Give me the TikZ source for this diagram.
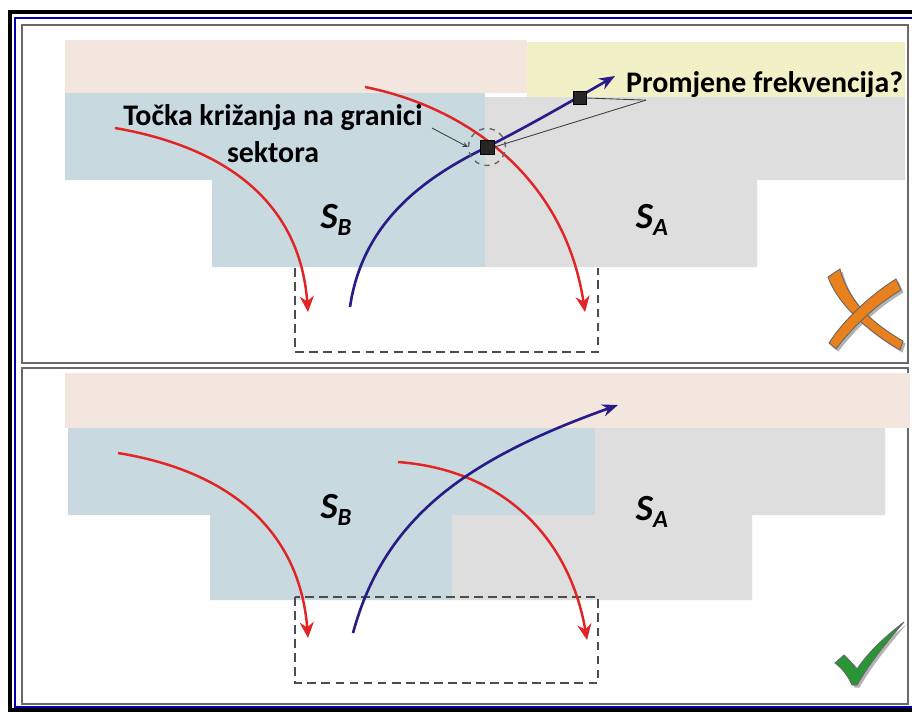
\documentclass[tikz,border=0pt]{standalone}
\usepackage{fontspec}
\setmainfont{Carlito}
\usetikzlibrary{arrows.meta, positioning, calc}

\definecolor{bandpink}{RGB}{243,230,222}
\definecolor{bandyellow}{RGB}{242,240,198}
\definecolor{sectorB}{RGB}{200,218,223}
\definecolor{sectorA}{RGB}{222,222,222}
\definecolor{flowred}{RGB}{226,36,36}
\definecolor{flownavy}{RGB}{40,28,135}
\definecolor{framegray}{RGB}{105,105,105}
\definecolor{crossorange}{RGB}{232,128,30}
\definecolor{tickgreen}{RGB}{40,150,50}

\begin{document}
\begin{tikzpicture}[x=0.02cm, y=-0.02cm,
    redflow/.style={draw=flowred, line width=1.4pt, -{Stealth[length=9pt, width=8pt]}},
    blueflow/.style={draw=flownavy, line width=1.5pt},
    sectorlbl/.style={font=\fontsize{21}{21}\selectfont\bfseries\itshape, inner sep=0pt},
    note/.style={font=\fontsize{17}{21}\selectfont\bfseries, align=center, inner sep=1pt},
    marker/.style={fill=black!85, draw=black, minimum size=0.28cm, inner sep=0pt},
    exitbox/.style={draw=black!70, line width=1pt, dash pattern=on 5pt off 3pt},
    pointer/.style={draw=black!75, line width=0.5pt}]

    \useasboundingbox (0,0) rectangle (912,711);

    % frame
    \draw[line width=2.4pt] (912,12) -- (10,12) -- (10,710) -- (912,710);
    \draw[blue!70!black, line width=1.2pt] (912,18) -- (15,18) -- (15,707) -- (912,707);
    \draw[framegray, line width=1pt] (22,25) rectangle (908,363);
    \draw[framegray, line width=1pt] (22,368) rectangle (908,704);

    % top panel: sectors
    \fill[bandpink] (65,40) rectangle (527,93);
    \fill[bandyellow] (527,42) rectangle (905,97);
    \fill[sectorB] (65,93) -- (485,93) -- (485,267) -- (212,267) -- (212,180) -- (65,180) -- cycle;
    \fill[sectorA] (485,97) -- (905,97) -- (905,180) -- (757,180) -- (757,267) -- (485,267) -- cycle;
    \draw[exitbox] (295,268) -- (295,352) -- (598,352) -- (598,268);
    \node[sectorlbl] (sbtop) at (336,220) {S\raisebox{-0.35ex}{\fontsize{14}{14}\selectfont B}};
    \node[sectorlbl] (satop) at (652,220) {S\raisebox{-0.35ex}{\fontsize{14}{14}\selectfont A}};

    % top panel: flights
    \coordinate (ra1) at (115,128);
    \coordinate (ra2) at (308,312);
    \coordinate (rb1) at (365,87);
    \coordinate (rb2) at (585,312);
    \coordinate (bl1) at (350,307);
    \coordinate (bl2) at (615,76);
    \draw[redflow] (ra1) .. controls (230,148) and (300,205) .. (ra2);
    \draw[redflow] (rb1) .. controls (470,108) and (565,180) .. (rb2);
    \draw[blueflow, -{Stealth[length=9pt, width=7pt]}] (bl1) .. controls (363,218) and (430,175) .. (487,147)
        .. controls (530,125) and (570,102) .. (bl2);

    % crossing point
    \node[circle, draw=black!60, dashed, line width=0.8pt, minimum size=0.74cm] (ring) at (487,147) {};
    \node[marker] (cross) at (487,147) {};
    \node[marker, minimum size=0.25cm] (freqsq) at (580,98) {};

    % labels
    \node[note] (lblcross) at (273,134) {Točka križanja na granici\\sektora};
    \node[note, anchor=west] (lblfreq) at (624,85) {Promjene frekvencija?};
    \draw[pointer, -{Stealth[length=3pt, width=3pt]}] (432,128) -- (ring.west);
    \draw[pointer] ($(lblfreq.south west)+(22,0)$) -- (freqsq.east);
    \draw[pointer] ($(lblfreq.south west)+(22,0)$) -- (cross.east);

    % wrong mark
    \begin{scope}[shift={(2.5,2.5)}]
        \fill[gray!60] (828,277) .. controls (836,300) and (862,328) .. (900,350) -- (903,341)
            .. controls (870,322) and (848,300) .. (840,269) -- cycle;
        \fill[gray!60] (896,279) .. controls (870,295) and (842,322) .. (829,343) -- (836,349)
            .. controls (850,330) and (875,305) .. (901,290) -- cycle;
    \end{scope}
    \filldraw[fill=crossorange, draw=black!60, line width=0.5pt]
        (828,277) .. controls (836,300) and (862,328) .. (900,350) -- (903,341)
        .. controls (870,322) and (848,300) .. (840,269) -- cycle;
    \filldraw[fill=crossorange, draw=black!60, line width=0.5pt]
        (896,279) .. controls (870,295) and (842,322) .. (829,343) -- (836,349)
        .. controls (850,330) and (875,305) .. (901,290) -- cycle;

    % bottom panel: sectors
    \fill[bandpink] (65,373) rectangle (910,428);
    \fill[sectorB] (68,428) -- (595,428) -- (595,515) -- (452,515) -- (452,600) -- (210,600) -- (210,515) -- (68,515) -- cycle;
    \fill[sectorA] (595,428) -- (885,428) -- (885,515) -- (752,515) -- (752,600) -- (452,600) -- (452,515) -- (595,515) -- cycle;
    \draw[exitbox] (295,597) rectangle (598,683);
    \node[sectorlbl] (sbbot) at (336,510) {S\raisebox{-0.35ex}{\fontsize{14}{14}\selectfont B}};
    \node[sectorlbl] (sabot) at (652,512) {S\raisebox{-0.35ex}{\fontsize{14}{14}\selectfont A}};

    % bottom panel: flights
    \coordinate (rc1) at (118,453);
    \coordinate (rc2) at (308,638);
    \coordinate (rd1) at (398,462);
    \coordinate (rd2) at (587,640);
    \coordinate (bm1) at (353,633);
    \coordinate (bm2) at (618,405);
    \draw[redflow] (rc1) .. controls (235,472) and (300,535) .. (rc2);
    \draw[redflow] (rd1) .. controls (505,470) and (570,540) .. (rd2);
    \draw[blueflow, -{Stealth[length=9pt, width=7pt]}] (bm1) .. controls (385,515) and (470,458) .. (bm2);

    % right mark
    \begin{scope}[shift={(2.5,2.5)}]
        \fill[gray!60] (835,663) -- (844,655) .. controls (849,660) and (853,664) .. (857,669)
            .. controls (870,650) and (886,636) .. (904,622) .. controls (890,638) and (870,662) .. (857,685)
            -- (852,685) .. controls (848,676) and (842,668) .. cycle;
    \end{scope}
    \filldraw[fill=tickgreen, draw=black!60, line width=0.5pt]
        (835,663) -- (844,655) .. controls (849,660) and (853,664) .. (857,669)
        .. controls (870,650) and (886,636) .. (904,622) .. controls (890,638) and (870,662) .. (857,685)
        -- (852,685) .. controls (848,676) and (842,668) .. cycle;
\end{tikzpicture}
\end{document}
